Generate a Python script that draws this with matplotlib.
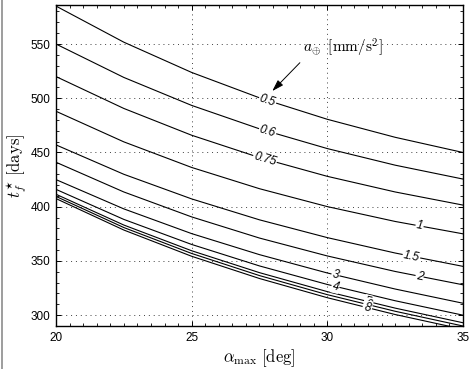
import numpy as np
import matplotlib
matplotlib.use('Agg')
import matplotlib.pyplot as plt
from matplotlib.lines import Line2D
from matplotlib.ticker import MultipleLocator

plt.rcParams['font.family'] = ['Liberation Sans', 'DejaVu Sans']
plt.rcParams['mathtext.fontset'] = 'cm'

# alpha_max [deg] sample points
alpha = [20, 22.5, 25, 27.5, 30, 32.5, 35]

# t_f* [days] for each a_earth value
t_05 = [585, 551.7, 523.8, 500.4, 480.6, 464.0, 450]
t_06 = [550, 519.2, 493.4, 471.8, 453.6, 438.3, 425.5]
t_075 = [520, 490.6, 465.9, 445.3, 428.0, 413.6, 401.5]
t_1 = [488, 459.8, 436.2, 416.6, 400.1, 386.4, 375]
t_15 = [457, 429.9, 407.2, 387.9, 371.5, 357.3, 345]
t_2 = [441, 413.6, 390.6, 371.1, 354.6, 340.3, 328]
t_3 = [425, 398.0, 375.2, 355.8, 338.9, 324.1, 311]
t_4 = [416, 388.3, 365.2, 345.4, 328.3, 313.3, 300]
t_5 = [411.5, 383.1, 359.4, 339.2, 321.7, 306.5, 293]
t_6 = [409.5, 380.8, 356.9, 336.5, 318.9, 303.6, 290]
t_8 = [407.5, 378.5, 354.3, 333.8, 316.1, 300.6, 287]

curves = [t_05, t_06, t_075, t_1, t_15, t_2, t_3, t_4, t_5, t_6, t_8]
labels = ['0.5', '0.6', '0.75', '1', '1.5', '2', '3', '4', '5', '6', '8']
label_alpha = [27.8, 27.8, 27.7, 33.4, 33.1, 33.4, 30.3, 30.3, 31.5, 31.5, 31.5]

fig = plt.figure(figsize=(4.72, 3.69), dpi=100)
ax = fig.add_axes([0.1186, 0.1165, 0.8623, 0.870])

for t in curves:
    ax.plot(alpha, t, c='k', lw=0.8)

ax.set_xlim(20, 35)
ax.set_ylim(290, 586)
ax.xaxis.set_major_locator(MultipleLocator(5))
ax.xaxis.set_minor_locator(MultipleLocator(0.5))
ax.yaxis.set_major_locator(MultipleLocator(50))
ax.yaxis.set_minor_locator(MultipleLocator(10))
ax.tick_params(which='both', direction='in', top=True, right=True, labelsize=8.5)
ax.tick_params(which='major', length=3.6, width=0.7, pad=4)
ax.tick_params(which='minor', length=2.0, width=0.6)
for s in ax.spines.values():
    s.set_linewidth(1.0)
ax.grid(True, which='major', ls=(0, (1, 4)), c='0.25', lw=0.7)

# inline curve labels
fig.canvas.draw()
for t, lab, a in zip(curves, labels, label_alpha):
    y = np.interp(a, alpha, t)
    p0 = ax.transData.transform((a - 0.5, np.interp(a - 0.5, alpha, t)))
    p1 = ax.transData.transform((a + 0.5, np.interp(a + 0.5, alpha, t)))
    ang = np.degrees(np.arctan2(p1[1] - p0[1], p1[0] - p0[0]))
    ax.text(a, y, lab, fontsize=8.5, style='italic', rotation=ang,
            rotation_mode='anchor', ha='center', va='center',
            bbox=dict(fc='white', ec='none', pad=0.6))

ax.annotate('', xy=(27.9, 504.8), xytext=(29.06, 534.6),
            arrowprops=dict(arrowstyle='-|>,head_width=0.22,head_length=0.7',
                            color='k', lw=0.7))
ax.text(29.1, 546.3, r'$a_{\oplus}\;\;\mathrm{[mm/s^2]}$', fontsize=11,
        ha='left', va='center')

ax.set_xlabel(r'$\alpha_{\max}\ \mathrm{[deg]}$', fontsize=12, labelpad=3)
ax.set_ylabel(r'$t_f^{\star}\ \mathrm{[days]}$', fontsize=12, labelpad=1)

fig.add_artist(Line2D([0.005, 0.005], [0, 1], color='0.55', lw=1.2))

fig.savefig('out.png', dpi=100)
